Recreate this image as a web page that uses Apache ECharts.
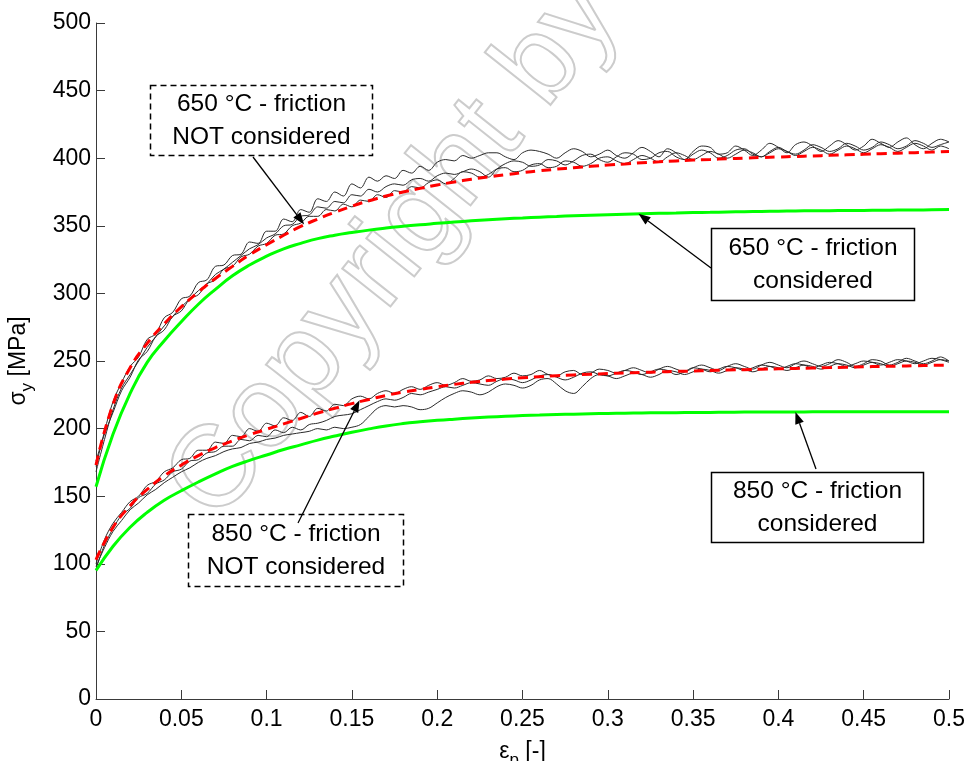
<!DOCTYPE html>
<html>
<head>
<meta charset="utf-8">
<script src="https://cdn.jsdelivr.net/npm/echarts@6/dist/echarts.min.js"></script>
<style>
  html, body { margin: 0; padding: 0; background: #fff; }
  #chart { width: 968px; height: 761px; }
</style>
</head>
<body>
<div id="chart"></div>
<script>
// Plastic strain grid of the measured flow curves
const strainExp = [
  0.000, 0.005, 0.010, 0.015, 0.020, 0.025, 0.030, 0.035, 0.040, 0.045,
  0.050, 0.055, 0.060, 0.065, 0.070, 0.075, 0.080, 0.085, 0.090, 0.095,
  0.100, 0.105, 0.110, 0.115, 0.120, 0.125, 0.130, 0.135, 0.140, 0.145,
  0.150, 0.155, 0.160, 0.165, 0.170, 0.175, 0.180, 0.185, 0.190, 0.195,
  0.200, 0.205, 0.210, 0.215, 0.220, 0.225, 0.230, 0.235, 0.240, 0.245,
  0.250, 0.255, 0.260, 0.265, 0.270, 0.275, 0.280, 0.285, 0.290, 0.295,
  0.300, 0.305, 0.310, 0.315, 0.320, 0.325, 0.330, 0.335, 0.340, 0.345,
  0.350, 0.355, 0.360, 0.365, 0.370, 0.375, 0.380, 0.385, 0.390, 0.395,
  0.400, 0.405, 0.410, 0.415, 0.420, 0.425, 0.430, 0.435, 0.440, 0.445,
  0.450, 0.455, 0.460, 0.465, 0.470, 0.475, 0.480, 0.485, 0.490, 0.495,
  0.500
];

// Measured flow stress at 650 °C, three specimens [MPa]
const exp650a = [
  172, 198, 220, 234, 246, 253, 266, 270, 282, 286,
  296, 298, 308, 310, 320, 321, 328, 329, 338, 337,
  346, 346, 355, 353, 362, 360, 370, 368, 375, 372,
  381, 378, 386, 383, 387, 385, 391, 389, 394, 391,
  397, 399, 398, 402, 400, 402, 404, 404, 401, 399,
  404, 406, 405, 403, 400, 404, 407, 405, 401, 403,
  406, 402, 400, 404, 408, 405, 401, 407, 404, 399,
  405, 409, 408, 403, 404, 409, 406, 402, 406, 411,
  408, 404, 410, 412, 409, 405, 409, 413, 410, 406,
  409, 414, 411, 408, 412, 415, 410, 407, 411, 414,
  412
];
const exp650b = [
  168, 192, 214, 230, 240, 250, 260, 268, 276, 283,
  290, 296, 302, 307, 314, 318, 323, 328, 333, 336,
  341, 344, 350, 351, 357, 358, 364, 363, 368, 367,
  373, 372, 377, 375, 379, 381, 380, 384, 385, 383,
  387, 389, 388, 390, 392, 390, 386, 392, 396, 398,
  397, 394, 395, 399, 398, 395, 398, 402, 403, 399,
  397, 401, 404, 403, 399, 400, 404, 405, 401, 399,
  403, 406, 404, 400, 402, 406, 407, 403, 401, 405,
  408, 405, 403, 406, 410, 408, 405, 407, 411, 409,
  406, 408, 412, 410, 407, 409, 413, 411, 408, 410,
  412
];
const exp650c = [
  176, 196, 212, 228, 238, 251, 257, 268, 273, 283,
  287, 296, 299, 307, 310, 318, 320, 327, 329, 335,
  337, 343, 344, 350, 352, 357, 357, 362, 361, 366,
  364, 369, 368, 373, 371, 376, 375, 379, 378, 382,
  384, 381, 385, 390, 389, 386, 388, 392, 393, 390,
  391, 395, 396, 393, 394, 398, 397, 394, 396, 400,
  401, 398, 396, 399, 402, 400, 397, 401, 404, 402,
  399, 402, 405, 403, 400, 403, 406, 404, 401, 404,
  407, 405, 402, 405, 408, 406, 403, 406, 409, 407,
  404, 407, 410, 408, 405, 408, 411, 409, 406, 409,
  407
];

// Measured flow stress at 850 °C, three specimens [MPa]
const exp850a = [
  100, 118, 130, 138, 146, 150, 158, 161, 168, 171,
  177, 178, 184, 184, 190, 189, 195, 194, 200, 198,
  204, 202, 208, 206, 212, 209, 215, 213, 218, 217,
  222, 224, 222, 226, 228, 226, 229, 231, 229, 232,
  234, 232, 234, 237, 235, 236, 239, 237, 238, 241,
  239, 240, 243, 240, 239, 242, 243, 240, 241, 244,
  243, 241, 243, 245, 243, 241, 244, 246, 244, 242,
  245, 247, 245, 243, 246, 248, 246, 244, 247, 249,
  247, 245, 248, 250, 248, 246, 248, 251, 249, 246,
  248, 251, 250, 247, 249, 252, 250, 248, 250, 253,
  250
];
const exp850b = [
  96, 114, 126, 136, 141, 149, 152, 159, 162, 168,
  170, 176, 177, 182, 183, 187, 187, 192, 191, 195,
  194, 199, 197, 201, 199, 203, 204, 206, 209, 210,
  211, 214, 217, 220, 222, 221, 223, 226, 225, 227,
  229, 231, 230, 232, 234, 233, 232, 235, 237, 236,
  234, 236, 239, 240, 238, 236, 238, 241, 242, 240,
  239, 241, 243, 242, 240, 242, 244, 243, 240, 242,
  245, 244, 242, 244, 246, 245, 243, 245, 247, 246,
  244, 246, 248, 247, 245, 247, 249, 248, 246, 248,
  250, 249, 247, 249, 251, 250, 248, 250, 252, 251,
  249
];
const exp850c = [
  98, 112, 124, 132, 140, 145, 151, 155, 160, 164,
  168, 171, 175, 178, 180, 183, 185, 186, 189, 190,
  192, 193, 195, 196, 197, 198, 200, 199, 201, 200,
  201, 203, 209, 215, 217, 216, 217, 216, 214, 215,
  219, 223, 226, 228, 227, 225, 227, 231, 233, 232,
  230, 232, 236, 237, 233, 228, 226, 231, 237, 240,
  239, 237, 239, 241, 240, 238, 240, 243, 242, 240,
  242, 244, 243, 241, 243, 245, 244, 242, 244, 246,
  245, 243, 245, 247, 246, 244, 246, 248, 247, 245,
  247, 249, 248, 246, 248, 250, 249, 247, 249, 251,
  250
];

// Plastic strain grid of the fitted hardening laws
const strainFit = [
  0.00, 0.01, 0.02, 0.03, 0.04, 0.05, 0.06, 0.07, 0.08, 0.09,
  0.10, 0.11, 0.12, 0.13, 0.14, 0.15, 0.16, 0.17, 0.18, 0.19,
  0.20, 0.21, 0.22, 0.23, 0.24, 0.25, 0.26, 0.27, 0.28, 0.29,
  0.30, 0.31, 0.32, 0.33, 0.34, 0.35, 0.36, 0.37, 0.38, 0.39,
  0.40, 0.41, 0.42, 0.43, 0.44, 0.45, 0.46, 0.47, 0.48, 0.49,
  0.50
];
// Fitted flow curves [MPa]
const fit650NoFriction = [
  173, 218, 245, 263, 277.5, 290, 301, 311, 320, 328.5,
  336, 343, 349.5, 355, 360, 364.5, 368.5, 372, 375, 377.7,
  380.2, 382.4, 384.4, 386.2, 387.8, 389.3, 390.7, 391.9, 393, 394,
  395, 395.8, 396.6, 397.3, 398, 398.6, 399.1, 399.6, 400.1, 400.5,
  400.9, 401.3, 401.7, 402.1, 402.5, 402.9, 403.3, 403.7, 404.1, 404.5,
  405
];
const fit650Friction = [
  157, 196, 226, 249, 265, 279, 292, 303, 313, 321,
  327.5, 333, 337, 340.5, 343, 345, 346.8, 348.3, 349.6, 350.8,
  351.8, 352.8, 353.7, 354.5, 355.2, 355.8, 356.4, 356.9, 357.4, 357.8,
  358.2, 358.6, 358.9, 359.2, 359.5, 359.8, 360, 360.2, 360.4, 360.6,
  360.8, 361, 361.1, 361.2, 361.3, 361.4, 361.5, 361.6, 361.7, 361.8,
  362
];
const fit850NoFriction = [
  103, 127, 143, 155, 165, 173, 180, 186, 191, 195.5,
  199.5, 203.5, 207.5, 211.5, 215, 218.5, 221.5, 224.5, 227, 229,
  231, 232.7, 234.2, 235.5, 236.6, 237.6, 238.4, 239.1, 239.7, 240.2,
  240.7, 241.1, 241.5, 241.9, 242.3, 242.6, 243, 243.3, 243.6, 243.9,
  244.2, 244.5, 244.8, 245.1, 245.4, 245.7, 246, 246.2, 246.5, 246.8,
  247
];
const fit850Friction = [
  95, 113, 127, 138, 147, 154, 160.5, 166.5, 172, 176.5,
  180.5, 184.5, 188, 191.5, 194.5, 197.3, 199.8, 202, 203.7, 205,
  206.1, 207, 207.8, 208.5, 209.1, 209.6, 210, 210.4, 210.7, 211,
  211.2, 211.4, 211.6, 211.7, 211.8, 211.9, 212, 212.1, 212.2, 212.2,
  212.3, 212.3, 212.4, 212.4, 212.4, 212.5, 212.5, 212.5, 212.5, 212.5,
  212.5
];

// Tick labels
const xTickLabels = ['0', '0.05', '0.1', '0.15', '0.2', '0.25', '0.3', '0.35', '0.4', '0.45', '0.5'];
const yTickLabels = ['0', '50', '100', '150', '200', '250', '300', '350', '400', '450', '500'];

// Annotation texts and the curve point each arrow points at [strain, stress]
const notes = [
  { lines: ['650 °C - friction', 'NOT considered'], dashed: true,  target: [0.122, 351] },
  { lines: ['650 °C - friction', 'considered'],     dashed: false, target: [0.318, 358.9] },
  { lines: ['850 °C - friction', 'NOT considered'], dashed: true,  target: [0.1545, 221] },
  { lines: ['850 °C - friction', 'considered'],     dashed: false, target: [0.41, 212.3] }
];

const FONT = '"Liberation Sans", Arial, Helvetica, sans-serif';
const zip = (xs, ys) => xs.map((x, i) => [x, ys[i]]);

const chart = echarts.init(document.getElementById('chart'), null, { renderer: 'canvas' });

const expLine = (name, values) => ({
  name, type: 'line', data: zip(strainExp, values),
  showSymbol: false, smooth: 0.35, silent: true, z: 2,
  lineStyle: { color: '#2a2a2a', width: 1 }
});

const nameRich = {
  v: { fontFamily: FONT, fontSize: 23, color: '#000', lineHeight: 34, verticalAlign: 'middle' },
  s: { fontFamily: FONT, fontSize: 17, color: '#000', lineHeight: 34, verticalAlign: 'bottom', padding: [16, 0, 0, 0] }
};

const option = {
  animation: false,
  backgroundColor: '#ffffff',
  grid: { left: 96, right: 19, top: 23, bottom: 62, outerBoundsMode: 'none', containLabel: false },
  xAxis: {
    type: 'value', min: 0, max: 0.5, interval: 0.05,
    name: '{v|ε}{s|p}{v| [-]}',
    nameLocation: 'middle', nameGap: 36,
    nameTextStyle: { rich: nameRich },
    axisLine: { lineStyle: { color: '#3a3a3a', width: 1 } },
    axisTick: { inside: true, length: 9, lineStyle: { color: '#3a3a3a' } },
    axisLabel: {
      fontFamily: FONT, fontSize: 23, color: '#000', margin: 9,
      formatter: (v) => xTickLabels[Math.round(v / 0.05)]
    },
    splitLine: { show: false }
  },
  yAxis: {
    type: 'value', min: 0, max: 500, interval: 50,
    name: '{v|σ}{s|y}{v| [MPa]}',
    nameLocation: 'middle', nameGap: 60, nameRotate: 90,
    nameTextStyle: { rich: nameRich },
    axisLine: { show: true, lineStyle: { color: '#3a3a3a', width: 1 } },
    axisTick: { show: true, inside: true, length: 9, lineStyle: { color: '#3a3a3a' } },
    axisLabel: {
      fontFamily: FONT, fontSize: 23, color: '#000', margin: 5,
      formatter: (v) => yTickLabels[Math.round(v / 50)]
    },
    splitLine: { show: false }
  },
  series: [
    expLine('650 °C test 1', exp650a),
    expLine('650 °C test 2', exp650b),
    expLine('650 °C test 3', exp650c),
    expLine('850 °C test 1', exp850a),
    expLine('850 °C test 2', exp850b),
    expLine('850 °C test 3', exp850c),
    {
      name: '650 °C - friction considered', type: 'line', data: zip(strainFit, fit650Friction),
      showSymbol: false, smooth: true, silent: true, z: 3,
      lineStyle: { color: '#00ff00', width: 3 }
    },
    {
      name: '850 °C - friction considered', type: 'line', data: zip(strainFit, fit850Friction),
      showSymbol: false, smooth: true, silent: true, z: 3,
      lineStyle: { color: '#00ff00', width: 3 }
    },
    {
      name: '650 °C - friction NOT considered', type: 'line', data: zip(strainFit, fit650NoFriction),
      showSymbol: false, smooth: true, silent: true, z: 4,
      lineStyle: { color: '#ff0000', width: 3, type: [10, 6] }
    },
    {
      name: '850 °C - friction NOT considered', type: 'line', data: zip(strainFit, fit850NoFriction),
      showSymbol: false, smooth: true, silent: true, z: 4,
      lineStyle: { color: '#ff0000', width: 3, type: [10, 6] }
    }
  ]
};
chart.setOption(option);

// Text boxes: [left, top, width, height] in pixels, and arrow tails
const boxes = [
  { rect: [150.5, 85.5, 222, 70], tail: [253, 157] },
  { rect: [711.5, 228.5, 203, 72], tail: [711, 268] },
  { rect: [188.5, 514.5, 215, 72], tail: [298, 523] },
  { rect: [711.5, 472.5, 212, 70], tail: [816, 469] }
];

function arrow(tail, head) {
  const dx = head[0] - tail[0], dy = head[1] - tail[1];
  const len = Math.hypot(dx, dy);
  const ux = dx / len, uy = dy / len;
  const hl = 12, hw = 4.5;
  const bx = head[0] - ux * hl, by = head[1] - uy * hl;
  return [
    { type: 'line', z: 20, silent: true,
      shape: { x1: tail[0], y1: tail[1], x2: bx, y2: by },
      style: { stroke: '#000', lineWidth: 1.3 } },
    { type: 'polygon', z: 20, silent: true,
      shape: { points: [head, [bx - uy * hw, by + ux * hw], [bx + uy * hw, by - ux * hw]] },
      style: { fill: '#000' } }
  ];
}

const graphics = [];
// Faint outlined watermark across the plot
graphics.push({
  type: 'text', z: 1, silent: true,
  x: 192, y: 505, rotation: 0.9,
  style: {
    text: 'Copyright by', font: '116px ' + FONT,
    fill: 'rgba(0,0,0,0)', stroke: '#cccccc', lineWidth: 2,
    textAlign: 'left', textVerticalAlign: 'middle'
  }
});

notes.forEach((n, i) => {
  const b = boxes[i];
  const [x, y, w, h] = b.rect;
  graphics.push({
    type: 'rect', z: 10, silent: true,
    shape: { x, y, width: w, height: h },
    style: { fill: '#fff', stroke: '#000', lineWidth: 1.5, lineDash: n.dashed ? [6, 4] : null }
  });
  n.lines.forEach((t, k) => {
    graphics.push({
      type: 'text', z: 11, silent: true,
      x: x + w / 2, y: y + h / 2 + (k === 0 ? -16.5 : 16.5),
      style: { text: t, font: '24.5px ' + FONT, fill: '#000', textAlign: 'center', textVerticalAlign: 'middle' }
    });
  });
  const head = chart.convertToPixel({ gridIndex: 0 }, n.target);
  arrow(b.tail, head).forEach(g => graphics.push(g));
});

chart.setOption({ graphic: graphics });
</script>
</body>
</html>
